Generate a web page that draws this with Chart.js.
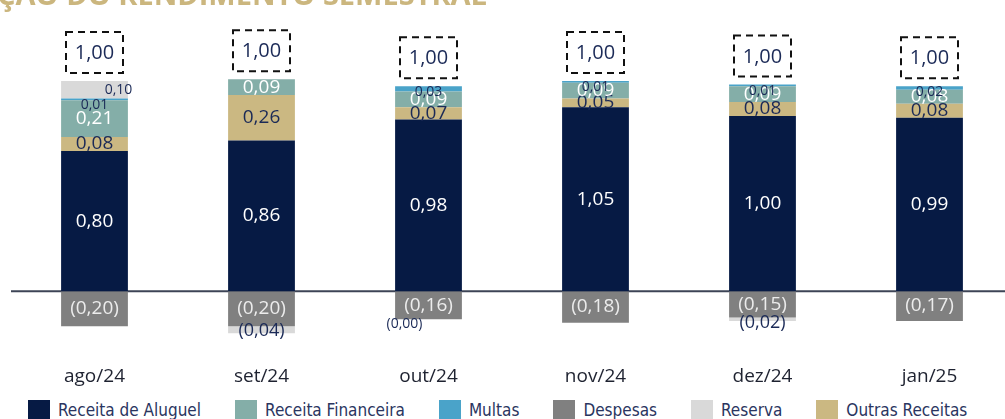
<!DOCTYPE html>
<html lang="pt-BR">
<head>
<meta charset="utf-8">
<script src="https://cdn.jsdelivr.net/npm/chart.js@4.4.1/dist/chart.umd.min.js"></script>
<style>
    html, body { margin: 0; padding: 0; background: #fff; overflow: hidden; }
    #wrap { position: relative; width: 1013px; height: 400px; }
    #legenda {
        position: absolute; left: 28px; top: 400px;
        display: flex; gap: 34px; white-space: nowrap;
        font-family: "DejaVu Sans Condensed", "Liberation Sans Narrow", sans-serif;
        font-size: 17px; color: #2a3560;
    }
    #legenda .item { display: flex; align-items: flex-start; }
    #legenda .caixa { width: 22px; height: 20px; margin-right: 8px; }
    #legenda .txt { line-height: 20px; }
</style>
</head>
<body>
<div id="wrap"><canvas id="graficoRendimento"></canvas></div>
<div id="legenda"></div>
<script>
// Dados do gráfico
const meses = ['ago/24', 'set/24', 'out/24', 'nov/24', 'dez/24', 'jan/25'];
const receitaAluguel = [0.80, 0.86, 0.98, 1.05, 1.00, 0.99];
const outrasReceitas = [0.08, 0.26, 0.07, 0.05, 0.08, 0.08];
const receitaFinanceira = [0.21, 0.09, 0.09, 0.09, 0.09, 0.08];
const multas = [0.01, null, 0.03, 0.01, 0.01, 0.02];
const despesas = [-0.20, -0.20, -0.16, -0.18, -0.15, -0.17];
const reserva = [0.10, -0.04, -0.00, null, -0.02, null];
const rendimento = [1.00, 1.00, 1.00, 1.00, 1.00, 1.00];

const titulo = 'EVOLUÇÃO DO RENDIMENTO SEMESTRAL';
const ordemLegenda = [0, 2, 3, 4, 5, 1];

const AZUL = '#1b2a57';
const FONTE = '"Open Sans", "DejaVu Sans", sans-serif';

function fmt(v) {
    const s = Math.abs(v).toFixed(2).replace('.', ',');
    return (v < 0 || Object.is(v, -0)) ? '(' + s + ')' : s;
}

// Titulo cortado no topo
const pluginTitulo = {
    id: 'titulo',
    afterDraw(chart) {
        const ctx = chart.ctx;
        ctx.save();
        ctx.font = 'bold 29px ' + FONTE;
        ctx.fillStyle = '#cbb67e';
        ctx.textAlign = 'right';
        ctx.textBaseline = 'alphabetic';
        ctx.fillText(titulo, 487, 5);
        ctx.restore();
    }
};

// Linha do zero
const pluginZero = {
    id: 'linhaZero',
    beforeDatasetsDraw(chart) {
        const ctx = chart.ctx;
        const y = chart.scales.y.getPixelForValue(0);
        ctx.save();
        ctx.strokeStyle = '#3d4456';
        ctx.lineWidth = 2;
        ctx.beginPath();
        ctx.moveTo(chart.chartArea.left, y);
        ctx.lineTo(chart.chartArea.right, y);
        ctx.stroke();
        ctx.restore();
    }
};

// Rotulos das barras + caixa tracejada do rendimento
const pluginRotulos = {
    id: 'rotulos',
    afterDatasetsDraw(chart) {
        const ctx = chart.ctx;
        ctx.save();
        ctx.textAlign = 'center';
        ctx.textBaseline = 'middle';

        chart.data.datasets.forEach((ds, i) => {
            const meta = chart.getDatasetMeta(i);
            ds.data.forEach((v, j) => {
                if (v === null) return;
                const el = meta.data[j];
                let x = el.x;
                let y = (el.y + el.base) / 2;
                let tam = 19;

                if (ds.label === 'Multas') {
                    tam = 14;
                    y = Math.min(el.y, el.base) + 6;
                } else if (ds.label === 'Reserva') {
                    if (v > 0) {
                        tam = 14;
                        x += 24;
                    } else {
                        // abaixo da barra de despesas
                        const d = chart.getDatasetMeta(4).data[j];
                        y = d.y + 5;
                        tam = v === 0 ? 14 : 18;
                        if (v === 0) x -= 24;
                    }
                }
                ctx.font = tam + 'px ' + FONTE;
                ctx.fillStyle = ds.corRotulo;
                ctx.fillText(fmt(v), x, y);
            });
        });

        // caixa tracejada acima da pilha
        const n = chart.data.labels.length;
        for (let j = 0; j < n; j++) {
            let topo = Infinity, x = 0;
            chart.data.datasets.forEach((ds, i) => {
                const v = ds.data[j];
                if (v === null || v <= 0) return;
                const el = chart.getDatasetMeta(i).data[j];
                topo = Math.min(topo, el.y);
                x = el.x;
            });
            const w = 57, h = 41;
            const by = topo - 8 - h;
            ctx.setLineDash([7, 5]);
            ctx.lineWidth = 2;
            ctx.strokeStyle = '#111';
            ctx.strokeRect(x - w / 2, by, w, h);
            ctx.setLineDash([]);
            ctx.font = '20px ' + FONTE;
            ctx.fillStyle = AZUL;
            ctx.fillText(fmt(rendimento[j]), x, by + h / 2 + 1);
        }
        ctx.restore();
    }
};

function serie(label, data, cor, corRotulo) {
    return {
        label: label,
        data: data,
        backgroundColor: cor,
        corRotulo: corRotulo,
        barPercentage: 0.4,
        categoryPercentage: 1,
        borderWidth: 0
    };
}

const ctx = document.getElementById('graficoRendimento');
const grafico = new Chart(ctx, {
    type: 'bar',
    data: {
        labels: meses,
        datasets: [
            serie('Receita de Aluguel', receitaAluguel, '#061a44', '#ffffff'),
            serie('Outras Receitas', outrasReceitas, '#cbb882', AZUL),
            serie('Receita Financeira', receitaFinanceira, '#84aea8', '#ffffff'),
            serie('Multas', multas, '#4aa3c9', AZUL),
            serie('Despesas', despesas, '#808080', '#ececec'),
            serie('Reserva', reserva, '#d9d9d9', AZUL)
        ]
    },
    options: {
        responsive: true,
        maintainAspectRatio: false,
        animation: false,
        layout: { padding: { top: 46, left: 11, right: 0, bottom: 8 } },
        scales: {
            x: {
                stacked: true,
                grid: { display: false, drawTicks: false },
                border: { display: false },
                ticks: { color: '#1e2230', font: { family: FONTE, size: 19 }, padding: 4 }
            },
            y: {
                stacked: true,
                display: false,
                min: -0.4,
                max: 1.4
            }
        },
        plugins: {
            tooltip: { enabled: false },
            legend: { display: false }
        }
    },
    plugins: [pluginZero, pluginRotulos, pluginTitulo]
});

// Legenda em HTML, na ordem do original
const itens = Chart.defaults.plugins.legend.labels.generateLabels(grafico)
    .sort((a, b) => ordemLegenda.indexOf(a.datasetIndex) - ordemLegenda.indexOf(b.datasetIndex));
const elLegenda = document.getElementById('legenda');
itens.forEach(it => {
    const d = document.createElement('div');
    d.className = 'item';
    const c = document.createElement('span');
    c.className = 'caixa';
    c.style.background = it.fillStyle;
    const t = document.createElement('span');
    t.className = 'txt';
    t.textContent = it.text;
    d.appendChild(c);
    d.appendChild(t);
    elLegenda.appendChild(d);
});
</script>
</body>
</html>
